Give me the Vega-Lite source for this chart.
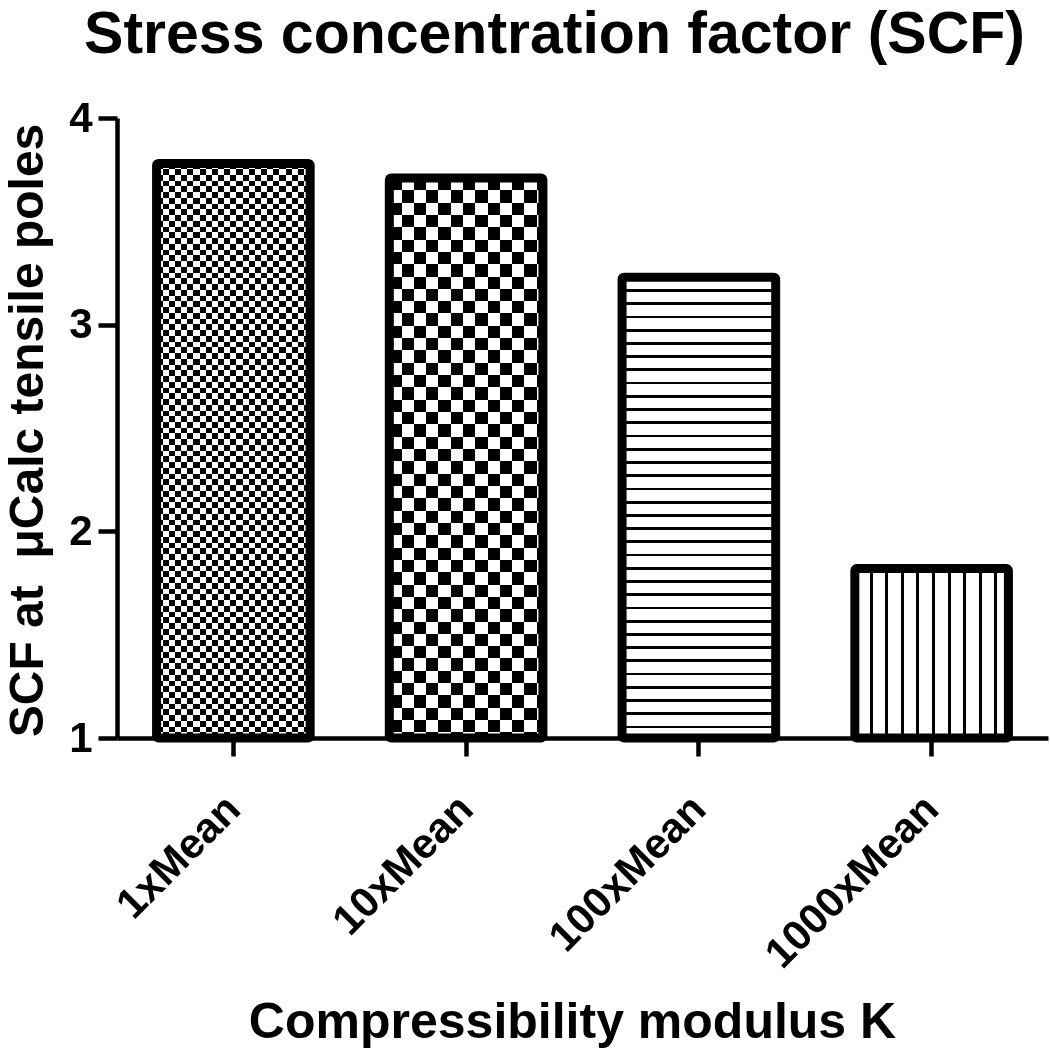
{
  "$schema": "https://vega.github.io/schema/vega-lite/v6.json",
  "autosize": "none",
  "width": 931,
  "height": 620,
  "padding": {"left": 117, "top": 118, "right": 2, "bottom": 311},
  "background": "white",
  "config": {"view": {"stroke": null}, "font": "Liberation Sans"},
  "title": {"text": "Stress concentration factor (SCF)", "fontSize": 59, "fontWeight": "bold", "font": "Liberation Sans", "color": "black", "anchor": "middle", "frame": "group", "dx": -28, "offset": 32},
  "data": {"values": [
    {"k": "1xMean", "v": 3.78},
    {"k": "10xMean", "v": 3.71},
    {"k": "100xMean", "v": 3.23},
    {"k": "1000xMean", "v": 1.82}
  ]},
  "encoding": {
    "x": {"field": "k", "type": "nominal", "sort": null,
      "scale": {"paddingInner": 0.34, "paddingOuter": 0.17},
      "axis": {"title": "Compressibility modulus  K", "titleFontSize": 50, "titleFontWeight": "bold", "titleFont": "Liberation Sans", "titleColor": "black", "titleX": 455, "titleY": 299, "titleBaseline": "alphabetic",
        "domainWidth": 4.5, "domainColor": "black", "tickWidth": 4.5, "tickColor": "black", "tickSize": 18,
        "labelAngle": -45, "labelAlign": "right", "labelBaseline": "middle", "labelPadding": 46, "labelFontSize": 42, "labelFontWeight": "bold", "labelFont": "Liberation Sans", "labelColor": "black", "labelOverlap": false, "labelLimit": 0}},
    "y": {"field": "v", "type": "quantitative",
      "scale": {"domain": [1, 4], "zero": false, "nice": false},
      "axis": {"title": "SCF at\u00a0 μCalc tensile poles", "titleFontSize": 48, "titleFontWeight": "bold", "titleFont": "Liberation Sans", "titleColor": "black", "titleX": -75, "titleY": 312, "titleAngle": -90, "titleAlign": "center", "titleBaseline": "alphabetic",
        "values": [1, 2, 3, 4], "grid": false, "domainWidth": 4.5, "domainColor": "black", "tickWidth": 4.5, "tickColor": "black", "tickSize": 19,
        "labelPadding": 6, "labelFontSize": 42, "labelFontWeight": "bold", "labelFont": "Liberation Sans", "labelColor": "black", "labelFlush": false, "labelOverlap": false}},
    "y2": {"datum": 1}
  },
  "layer": [
    {"transform": [{"filter": "datum.k == '1xMean'"}],
     "mark": {"type": "bar", "strokeWidth": 0, "fill": {"gradient": "linear", "x1": 0, "y1": 0, "x2": 1, "y2": 0, "stops": [
       {"offset":0,"color":"#fff"},
       {"offset":0.04,"color":"#fff"},{"offset":0.04,"color":"#000"},
       {"offset":0.08,"color":"#000"},{"offset":0.08,"color":"#fff"},
       {"offset":0.12,"color":"#fff"},{"offset":0.12,"color":"#000"},
       {"offset":0.16,"color":"#000"},{"offset":0.16,"color":"#fff"},
       {"offset":0.2,"color":"#fff"},{"offset":0.2,"color":"#000"},
       {"offset":0.24,"color":"#000"},{"offset":0.24,"color":"#fff"},
       {"offset":0.28,"color":"#fff"},{"offset":0.28,"color":"#000"},
       {"offset":0.32,"color":"#000"},{"offset":0.32,"color":"#fff"},
       {"offset":0.36,"color":"#fff"},{"offset":0.36,"color":"#000"},
       {"offset":0.4,"color":"#000"},{"offset":0.4,"color":"#fff"},
       {"offset":0.44,"color":"#fff"},{"offset":0.44,"color":"#000"},
       {"offset":0.48,"color":"#000"},{"offset":0.48,"color":"#fff"},
       {"offset":0.52,"color":"#fff"},{"offset":0.52,"color":"#000"},
       {"offset":0.56,"color":"#000"},{"offset":0.56,"color":"#fff"},
       {"offset":0.6,"color":"#fff"},{"offset":0.6,"color":"#000"},
       {"offset":0.64,"color":"#000"},{"offset":0.64,"color":"#fff"},
       {"offset":0.68,"color":"#fff"},{"offset":0.68,"color":"#000"},
       {"offset":0.72,"color":"#000"},{"offset":0.72,"color":"#fff"},
       {"offset":0.76,"color":"#fff"},{"offset":0.76,"color":"#000"},
       {"offset":0.8,"color":"#000"},{"offset":0.8,"color":"#fff"},
       {"offset":0.84,"color":"#fff"},{"offset":0.84,"color":"#000"},
       {"offset":0.88,"color":"#000"},{"offset":0.88,"color":"#fff"},
       {"offset":0.92,"color":"#fff"},{"offset":0.92,"color":"#000"},
       {"offset":0.96,"color":"#000"},{"offset":0.96,"color":"#fff"},
       {"offset":1,"color":"#fff"}]}}},
    {"transform": [{"filter": "datum.k == '1xMean'"}],
     "mark": {"type": "bar", "strokeWidth": 0, "blend": "difference", "fill": {"gradient": "linear", "x1": 0, "y1": 0, "x2": 0, "y2": 1, "stops": [
       {"offset":0,"color":"#fff"},
       {"offset":0.01,"color":"#fff"},{"offset":0.01,"color":"#000"},
       {"offset":0.02,"color":"#000"},{"offset":0.02,"color":"#fff"},
       {"offset":0.03,"color":"#fff"},{"offset":0.03,"color":"#000"},
       {"offset":0.04,"color":"#000"},{"offset":0.04,"color":"#fff"},
       {"offset":0.05,"color":"#fff"},{"offset":0.05,"color":"#000"},
       {"offset":0.06,"color":"#000"},{"offset":0.06,"color":"#fff"},
       {"offset":0.07,"color":"#fff"},{"offset":0.07,"color":"#000"},
       {"offset":0.08,"color":"#000"},{"offset":0.08,"color":"#fff"},
       {"offset":0.09,"color":"#fff"},{"offset":0.09,"color":"#000"},
       {"offset":0.1,"color":"#000"},{"offset":0.1,"color":"#fff"},
       {"offset":0.11,"color":"#fff"},{"offset":0.11,"color":"#000"},
       {"offset":0.12,"color":"#000"},{"offset":0.12,"color":"#fff"},
       {"offset":0.13,"color":"#fff"},{"offset":0.13,"color":"#000"},
       {"offset":0.14,"color":"#000"},{"offset":0.14,"color":"#fff"},
       {"offset":0.15,"color":"#fff"},{"offset":0.15,"color":"#000"},
       {"offset":0.16,"color":"#000"},{"offset":0.16,"color":"#fff"},
       {"offset":0.17,"color":"#fff"},{"offset":0.17,"color":"#000"},
       {"offset":0.18,"color":"#000"},{"offset":0.18,"color":"#fff"},
       {"offset":0.19,"color":"#fff"},{"offset":0.19,"color":"#000"},
       {"offset":0.2,"color":"#000"},{"offset":0.2,"color":"#fff"},
       {"offset":0.21,"color":"#fff"},{"offset":0.21,"color":"#000"},
       {"offset":0.22,"color":"#000"},{"offset":0.22,"color":"#fff"},
       {"offset":0.23,"color":"#fff"},{"offset":0.23,"color":"#000"},
       {"offset":0.24,"color":"#000"},{"offset":0.24,"color":"#fff"},
       {"offset":0.25,"color":"#fff"},{"offset":0.25,"color":"#000"},
       {"offset":0.26,"color":"#000"},{"offset":0.26,"color":"#fff"},
       {"offset":0.27,"color":"#fff"},{"offset":0.27,"color":"#000"},
       {"offset":0.28,"color":"#000"},{"offset":0.28,"color":"#fff"},
       {"offset":0.29,"color":"#fff"},{"offset":0.29,"color":"#000"},
       {"offset":0.3,"color":"#000"},{"offset":0.3,"color":"#fff"},
       {"offset":0.31,"color":"#fff"},{"offset":0.31,"color":"#000"},
       {"offset":0.32,"color":"#000"},{"offset":0.32,"color":"#fff"},
       {"offset":0.33,"color":"#fff"},{"offset":0.33,"color":"#000"},
       {"offset":0.34,"color":"#000"},{"offset":0.34,"color":"#fff"},
       {"offset":0.35,"color":"#fff"},{"offset":0.35,"color":"#000"},
       {"offset":0.36,"color":"#000"},{"offset":0.36,"color":"#fff"},
       {"offset":0.37,"color":"#fff"},{"offset":0.37,"color":"#000"},
       {"offset":0.38,"color":"#000"},{"offset":0.38,"color":"#fff"},
       {"offset":0.39,"color":"#fff"},{"offset":0.39,"color":"#000"},
       {"offset":0.4,"color":"#000"},{"offset":0.4,"color":"#fff"},
       {"offset":0.41,"color":"#fff"},{"offset":0.41,"color":"#000"},
       {"offset":0.42,"color":"#000"},{"offset":0.42,"color":"#fff"},
       {"offset":0.43,"color":"#fff"},{"offset":0.43,"color":"#000"},
       {"offset":0.44,"color":"#000"},{"offset":0.44,"color":"#fff"},
       {"offset":0.45,"color":"#fff"},{"offset":0.45,"color":"#000"},
       {"offset":0.46,"color":"#000"},{"offset":0.46,"color":"#fff"},
       {"offset":0.47,"color":"#fff"},{"offset":0.47,"color":"#000"},
       {"offset":0.48,"color":"#000"},{"offset":0.48,"color":"#fff"},
       {"offset":0.49,"color":"#fff"},{"offset":0.49,"color":"#000"},
       {"offset":0.5,"color":"#000"},{"offset":0.5,"color":"#fff"},
       {"offset":0.51,"color":"#fff"},{"offset":0.51,"color":"#000"},
       {"offset":0.52,"color":"#000"},{"offset":0.52,"color":"#fff"},
       {"offset":0.53,"color":"#fff"},{"offset":0.53,"color":"#000"},
       {"offset":0.54,"color":"#000"},{"offset":0.54,"color":"#fff"},
       {"offset":0.55,"color":"#fff"},{"offset":0.55,"color":"#000"},
       {"offset":0.56,"color":"#000"},{"offset":0.56,"color":"#fff"},
       {"offset":0.57,"color":"#fff"},{"offset":0.57,"color":"#000"},
       {"offset":0.58,"color":"#000"},{"offset":0.58,"color":"#fff"},
       {"offset":0.59,"color":"#fff"},{"offset":0.59,"color":"#000"},
       {"offset":0.6,"color":"#000"},{"offset":0.6,"color":"#fff"},
       {"offset":0.61,"color":"#fff"},{"offset":0.61,"color":"#000"},
       {"offset":0.62,"color":"#000"},{"offset":0.62,"color":"#fff"},
       {"offset":0.63,"color":"#fff"},{"offset":0.63,"color":"#000"},
       {"offset":0.64,"color":"#000"},{"offset":0.64,"color":"#fff"},
       {"offset":0.65,"color":"#fff"},{"offset":0.65,"color":"#000"},
       {"offset":0.66,"color":"#000"},{"offset":0.66,"color":"#fff"},
       {"offset":0.67,"color":"#fff"},{"offset":0.67,"color":"#000"},
       {"offset":0.68,"color":"#000"},{"offset":0.68,"color":"#fff"},
       {"offset":0.69,"color":"#fff"},{"offset":0.69,"color":"#000"},
       {"offset":0.7,"color":"#000"},{"offset":0.7,"color":"#fff"},
       {"offset":0.71,"color":"#fff"},{"offset":0.71,"color":"#000"},
       {"offset":0.72,"color":"#000"},{"offset":0.72,"color":"#fff"},
       {"offset":0.73,"color":"#fff"},{"offset":0.73,"color":"#000"},
       {"offset":0.74,"color":"#000"},{"offset":0.74,"color":"#fff"},
       {"offset":0.75,"color":"#fff"},{"offset":0.75,"color":"#000"},
       {"offset":0.76,"color":"#000"},{"offset":0.76,"color":"#fff"},
       {"offset":0.77,"color":"#fff"},{"offset":0.77,"color":"#000"},
       {"offset":0.78,"color":"#000"},{"offset":0.78,"color":"#fff"},
       {"offset":0.79,"color":"#fff"},{"offset":0.79,"color":"#000"},
       {"offset":0.8,"color":"#000"},{"offset":0.8,"color":"#fff"},
       {"offset":0.81,"color":"#fff"},{"offset":0.81,"color":"#000"},
       {"offset":0.82,"color":"#000"},{"offset":0.82,"color":"#fff"},
       {"offset":0.83,"color":"#fff"},{"offset":0.83,"color":"#000"},
       {"offset":0.84,"color":"#000"},{"offset":0.84,"color":"#fff"},
       {"offset":0.85,"color":"#fff"},{"offset":0.85,"color":"#000"},
       {"offset":0.86,"color":"#000"},{"offset":0.86,"color":"#fff"},
       {"offset":0.87,"color":"#fff"},{"offset":0.87,"color":"#000"},
       {"offset":0.88,"color":"#000"},{"offset":0.88,"color":"#fff"},
       {"offset":0.89,"color":"#fff"},{"offset":0.89,"color":"#000"},
       {"offset":0.9,"color":"#000"},{"offset":0.9,"color":"#fff"},
       {"offset":0.91,"color":"#fff"},{"offset":0.91,"color":"#000"},
       {"offset":0.92,"color":"#000"},{"offset":0.92,"color":"#fff"},
       {"offset":0.93,"color":"#fff"},{"offset":0.93,"color":"#000"},
       {"offset":0.94,"color":"#000"},{"offset":0.94,"color":"#fff"},
       {"offset":0.95,"color":"#fff"},{"offset":0.95,"color":"#000"},
       {"offset":0.96,"color":"#000"},{"offset":0.96,"color":"#fff"},
       {"offset":0.97,"color":"#fff"},{"offset":0.97,"color":"#000"},
       {"offset":0.98,"color":"#000"},{"offset":0.98,"color":"#fff"},
       {"offset":0.99,"color":"#fff"},{"offset":0.99,"color":"#000"},
       {"offset":1,"color":"#000"}]}}},
    {"transform": [{"filter": "datum.k == '10xMean'"}],
     "mark": {"type": "bar", "strokeWidth": 0, "fill": {"gradient": "linear", "x1": 0, "y1": 0, "x2": 1, "y2": 0, "stops": [
       {"offset":0,"color":"#fff"},
       {"offset":0.08,"color":"#fff"},{"offset":0.08,"color":"#000"},
       {"offset":0.16,"color":"#000"},{"offset":0.16,"color":"#fff"},
       {"offset":0.24,"color":"#fff"},{"offset":0.24,"color":"#000"},
       {"offset":0.32,"color":"#000"},{"offset":0.32,"color":"#fff"},
       {"offset":0.4,"color":"#fff"},{"offset":0.4,"color":"#000"},
       {"offset":0.48,"color":"#000"},{"offset":0.48,"color":"#fff"},
       {"offset":0.56,"color":"#fff"},{"offset":0.56,"color":"#000"},
       {"offset":0.64,"color":"#000"},{"offset":0.64,"color":"#fff"},
       {"offset":0.72,"color":"#fff"},{"offset":0.72,"color":"#000"},
       {"offset":0.8,"color":"#000"},{"offset":0.8,"color":"#fff"},
       {"offset":0.88,"color":"#fff"},{"offset":0.88,"color":"#000"},
       {"offset":0.96,"color":"#000"},{"offset":0.96,"color":"#fff"},
       {"offset":1,"color":"#fff"}]}}},
    {"transform": [{"filter": "datum.k == '10xMean'"}],
     "mark": {"type": "bar", "strokeWidth": 0, "blend": "difference", "fill": {"gradient": "linear", "x1": 0, "y1": 0, "x2": 0, "y2": 1, "stops": [
       {"offset":0,"color":"#fff"},
       {"offset":0.022,"color":"#fff"},{"offset":0.022,"color":"#000"},
       {"offset":0.044,"color":"#000"},{"offset":0.044,"color":"#fff"},
       {"offset":0.066,"color":"#fff"},{"offset":0.066,"color":"#000"},
       {"offset":0.088,"color":"#000"},{"offset":0.088,"color":"#fff"},
       {"offset":0.11,"color":"#fff"},{"offset":0.11,"color":"#000"},
       {"offset":0.132,"color":"#000"},{"offset":0.132,"color":"#fff"},
       {"offset":0.154,"color":"#fff"},{"offset":0.154,"color":"#000"},
       {"offset":0.176,"color":"#000"},{"offset":0.176,"color":"#fff"},
       {"offset":0.198,"color":"#fff"},{"offset":0.198,"color":"#000"},
       {"offset":0.22,"color":"#000"},{"offset":0.22,"color":"#fff"},
       {"offset":0.242,"color":"#fff"},{"offset":0.242,"color":"#000"},
       {"offset":0.264,"color":"#000"},{"offset":0.264,"color":"#fff"},
       {"offset":0.286,"color":"#fff"},{"offset":0.286,"color":"#000"},
       {"offset":0.308,"color":"#000"},{"offset":0.308,"color":"#fff"},
       {"offset":0.33,"color":"#fff"},{"offset":0.33,"color":"#000"},
       {"offset":0.352,"color":"#000"},{"offset":0.352,"color":"#fff"},
       {"offset":0.374,"color":"#fff"},{"offset":0.374,"color":"#000"},
       {"offset":0.396,"color":"#000"},{"offset":0.396,"color":"#fff"},
       {"offset":0.418,"color":"#fff"},{"offset":0.418,"color":"#000"},
       {"offset":0.44,"color":"#000"},{"offset":0.44,"color":"#fff"},
       {"offset":0.462,"color":"#fff"},{"offset":0.462,"color":"#000"},
       {"offset":0.484,"color":"#000"},{"offset":0.484,"color":"#fff"},
       {"offset":0.506,"color":"#fff"},{"offset":0.506,"color":"#000"},
       {"offset":0.528,"color":"#000"},{"offset":0.528,"color":"#fff"},
       {"offset":0.55,"color":"#fff"},{"offset":0.55,"color":"#000"},
       {"offset":0.572,"color":"#000"},{"offset":0.572,"color":"#fff"},
       {"offset":0.594,"color":"#fff"},{"offset":0.594,"color":"#000"},
       {"offset":0.616,"color":"#000"},{"offset":0.616,"color":"#fff"},
       {"offset":0.638,"color":"#fff"},{"offset":0.638,"color":"#000"},
       {"offset":0.66,"color":"#000"},{"offset":0.66,"color":"#fff"},
       {"offset":0.682,"color":"#fff"},{"offset":0.682,"color":"#000"},
       {"offset":0.704,"color":"#000"},{"offset":0.704,"color":"#fff"},
       {"offset":0.726,"color":"#fff"},{"offset":0.726,"color":"#000"},
       {"offset":0.748,"color":"#000"},{"offset":0.748,"color":"#fff"},
       {"offset":0.77,"color":"#fff"},{"offset":0.77,"color":"#000"},
       {"offset":0.792,"color":"#000"},{"offset":0.792,"color":"#fff"},
       {"offset":0.814,"color":"#fff"},{"offset":0.814,"color":"#000"},
       {"offset":0.836,"color":"#000"},{"offset":0.836,"color":"#fff"},
       {"offset":0.858,"color":"#fff"},{"offset":0.858,"color":"#000"},
       {"offset":0.88,"color":"#000"},{"offset":0.88,"color":"#fff"},
       {"offset":0.902,"color":"#fff"},{"offset":0.902,"color":"#000"},
       {"offset":0.924,"color":"#000"},{"offset":0.924,"color":"#fff"},
       {"offset":0.946,"color":"#fff"},{"offset":0.946,"color":"#000"},
       {"offset":0.968,"color":"#000"},{"offset":0.968,"color":"#fff"},
       {"offset":0.99,"color":"#fff"},{"offset":0.99,"color":"#000"},
       {"offset":1,"color":"#000"}]}}},
    {"transform": [{"filter": "datum.k == '100xMean'"}],
     "mark": {"type": "bar", "strokeWidth": 0, "fill": {"gradient": "linear", "x1": 0, "y1": 0, "x2": 0, "y2": 1, "stops": [
       {"offset":0,"color":"#fff"},
       {"offset":0.026,"color":"#fff"},{"offset":0.026,"color":"#000"},{"offset":0.032,"color":"#000"},{"offset":0.032,"color":"#fff"},
       {"offset":0.0547,"color":"#fff"},{"offset":0.0547,"color":"#000"},{"offset":0.0607,"color":"#000"},{"offset":0.0607,"color":"#fff"},
       {"offset":0.0834,"color":"#fff"},{"offset":0.0834,"color":"#000"},{"offset":0.0894,"color":"#000"},{"offset":0.0894,"color":"#fff"},
       {"offset":0.1121,"color":"#fff"},{"offset":0.1121,"color":"#000"},{"offset":0.1181,"color":"#000"},{"offset":0.1181,"color":"#fff"},
       {"offset":0.1408,"color":"#fff"},{"offset":0.1408,"color":"#000"},{"offset":0.1468,"color":"#000"},{"offset":0.1468,"color":"#fff"},
       {"offset":0.1695,"color":"#fff"},{"offset":0.1695,"color":"#000"},{"offset":0.1755,"color":"#000"},{"offset":0.1755,"color":"#fff"},
       {"offset":0.1982,"color":"#fff"},{"offset":0.1982,"color":"#000"},{"offset":0.2042,"color":"#000"},{"offset":0.2042,"color":"#fff"},
       {"offset":0.2269,"color":"#fff"},{"offset":0.2269,"color":"#000"},{"offset":0.2329,"color":"#000"},{"offset":0.2329,"color":"#fff"},
       {"offset":0.2556,"color":"#fff"},{"offset":0.2556,"color":"#000"},{"offset":0.2616,"color":"#000"},{"offset":0.2616,"color":"#fff"},
       {"offset":0.2843,"color":"#fff"},{"offset":0.2843,"color":"#000"},{"offset":0.2903,"color":"#000"},{"offset":0.2903,"color":"#fff"},
       {"offset":0.313,"color":"#fff"},{"offset":0.313,"color":"#000"},{"offset":0.319,"color":"#000"},{"offset":0.319,"color":"#fff"},
       {"offset":0.3417,"color":"#fff"},{"offset":0.3417,"color":"#000"},{"offset":0.3477,"color":"#000"},{"offset":0.3477,"color":"#fff"},
       {"offset":0.3704,"color":"#fff"},{"offset":0.3704,"color":"#000"},{"offset":0.3764,"color":"#000"},{"offset":0.3764,"color":"#fff"},
       {"offset":0.3991,"color":"#fff"},{"offset":0.3991,"color":"#000"},{"offset":0.4051,"color":"#000"},{"offset":0.4051,"color":"#fff"},
       {"offset":0.4278,"color":"#fff"},{"offset":0.4278,"color":"#000"},{"offset":0.4338,"color":"#000"},{"offset":0.4338,"color":"#fff"},
       {"offset":0.4565,"color":"#fff"},{"offset":0.4565,"color":"#000"},{"offset":0.4625,"color":"#000"},{"offset":0.4625,"color":"#fff"},
       {"offset":0.4852,"color":"#fff"},{"offset":0.4852,"color":"#000"},{"offset":0.4912,"color":"#000"},{"offset":0.4912,"color":"#fff"},
       {"offset":0.5139,"color":"#fff"},{"offset":0.5139,"color":"#000"},{"offset":0.5199,"color":"#000"},{"offset":0.5199,"color":"#fff"},
       {"offset":0.5426,"color":"#fff"},{"offset":0.5426,"color":"#000"},{"offset":0.5486,"color":"#000"},{"offset":0.5486,"color":"#fff"},
       {"offset":0.5713,"color":"#fff"},{"offset":0.5713,"color":"#000"},{"offset":0.5773,"color":"#000"},{"offset":0.5773,"color":"#fff"},
       {"offset":0.6,"color":"#fff"},{"offset":0.6,"color":"#000"},{"offset":0.606,"color":"#000"},{"offset":0.606,"color":"#fff"},
       {"offset":0.6287,"color":"#fff"},{"offset":0.6287,"color":"#000"},{"offset":0.6347,"color":"#000"},{"offset":0.6347,"color":"#fff"},
       {"offset":0.6574,"color":"#fff"},{"offset":0.6574,"color":"#000"},{"offset":0.6634,"color":"#000"},{"offset":0.6634,"color":"#fff"},
       {"offset":0.6861,"color":"#fff"},{"offset":0.6861,"color":"#000"},{"offset":0.6921,"color":"#000"},{"offset":0.6921,"color":"#fff"},
       {"offset":0.7148,"color":"#fff"},{"offset":0.7148,"color":"#000"},{"offset":0.7208,"color":"#000"},{"offset":0.7208,"color":"#fff"},
       {"offset":0.7435,"color":"#fff"},{"offset":0.7435,"color":"#000"},{"offset":0.7495,"color":"#000"},{"offset":0.7495,"color":"#fff"},
       {"offset":0.7722,"color":"#fff"},{"offset":0.7722,"color":"#000"},{"offset":0.7782,"color":"#000"},{"offset":0.7782,"color":"#fff"},
       {"offset":0.8009,"color":"#fff"},{"offset":0.8009,"color":"#000"},{"offset":0.8069,"color":"#000"},{"offset":0.8069,"color":"#fff"},
       {"offset":0.8296,"color":"#fff"},{"offset":0.8296,"color":"#000"},{"offset":0.8356,"color":"#000"},{"offset":0.8356,"color":"#fff"},
       {"offset":0.8583,"color":"#fff"},{"offset":0.8583,"color":"#000"},{"offset":0.8643,"color":"#000"},{"offset":0.8643,"color":"#fff"},
       {"offset":0.887,"color":"#fff"},{"offset":0.887,"color":"#000"},{"offset":0.893,"color":"#000"},{"offset":0.893,"color":"#fff"},
       {"offset":0.9157,"color":"#fff"},{"offset":0.9157,"color":"#000"},{"offset":0.9217,"color":"#000"},{"offset":0.9217,"color":"#fff"},
       {"offset":0.9444,"color":"#fff"},{"offset":0.9444,"color":"#000"},{"offset":0.9504,"color":"#000"},{"offset":0.9504,"color":"#fff"},
       {"offset":0.9731,"color":"#fff"},{"offset":0.9731,"color":"#000"},{"offset":0.9791,"color":"#000"},{"offset":0.9791,"color":"#fff"},
       {"offset":1,"color":"#fff"}]}}},
    {"transform": [{"filter": "datum.k == '1000xMean'"}],
     "mark": {"type": "bar", "strokeWidth": 0, "fill": {"gradient": "linear", "x1": 0, "y1": 0, "x2": 1, "y2": 0, "stops": [
       {"offset":0,"color":"#fff"},
       {"offset":0.096,"color":"#fff"},{"offset":0.096,"color":"#000"},{"offset":0.1155,"color":"#000"},{"offset":0.1155,"color":"#fff"},
       {"offset":0.1975,"color":"#fff"},{"offset":0.1975,"color":"#000"},{"offset":0.217,"color":"#000"},{"offset":0.217,"color":"#fff"},
       {"offset":0.299,"color":"#fff"},{"offset":0.299,"color":"#000"},{"offset":0.3185,"color":"#000"},{"offset":0.3185,"color":"#fff"},
       {"offset":0.4005,"color":"#fff"},{"offset":0.4005,"color":"#000"},{"offset":0.42,"color":"#000"},{"offset":0.42,"color":"#fff"},
       {"offset":0.502,"color":"#fff"},{"offset":0.502,"color":"#000"},{"offset":0.5215,"color":"#000"},{"offset":0.5215,"color":"#fff"},
       {"offset":0.6035,"color":"#fff"},{"offset":0.6035,"color":"#000"},{"offset":0.623,"color":"#000"},{"offset":0.623,"color":"#fff"},
       {"offset":0.705,"color":"#fff"},{"offset":0.705,"color":"#000"},{"offset":0.7245,"color":"#000"},{"offset":0.7245,"color":"#fff"},
       {"offset":0.8065,"color":"#fff"},{"offset":0.8065,"color":"#000"},{"offset":0.826,"color":"#000"},{"offset":0.826,"color":"#fff"},
       {"offset":0.908,"color":"#fff"},{"offset":0.908,"color":"#000"},{"offset":0.9275,"color":"#000"},{"offset":0.9275,"color":"#fff"},
       {"offset":1,"color":"#fff"}]}}},
    {"mark": {"type": "bar", "filled": false, "stroke": "black", "strokeWidth": 9, "cornerRadius": 2}}
  ]
}
